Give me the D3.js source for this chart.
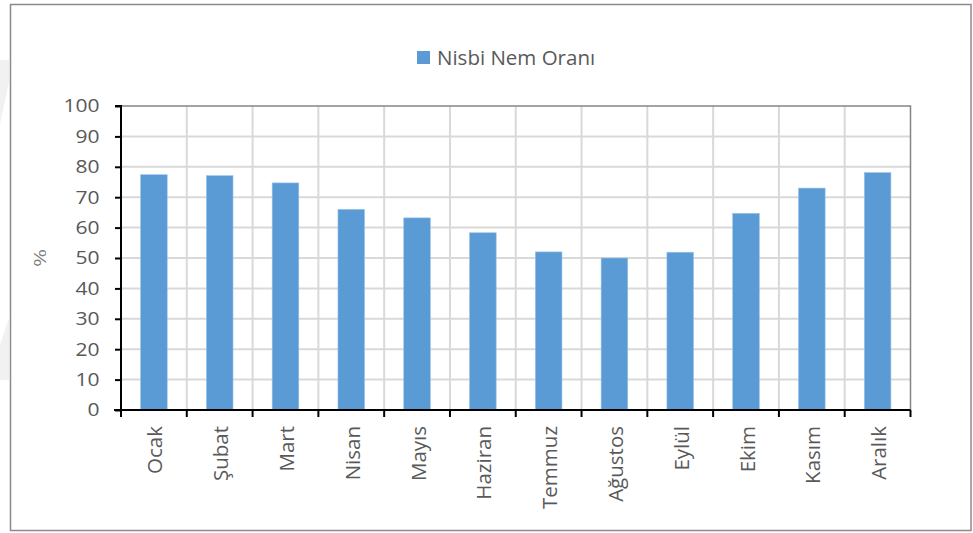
<!DOCTYPE html>
<html>
<head>
<meta charset="utf-8">
<script src="https://cdn.jsdelivr.net/npm/d3@7"></script>
<style>
  html, body { margin: 0; padding: 0; background: #fff; }
  svg { display: block; }
  text { font-family: "Open Sans", "Noto Sans", sans-serif; }
</style>
</head>
<body>
<svg id="chart" width="973" height="533"></svg>
<script>
// Aylık ortalama nisbi nem (%)
const months = ["Ocak", "Şubat", "Mart", "Nisan", "Mayıs", "Haziran",
                "Temmuz", "Ağustos", "Eylül", "Ekim", "Kasım", "Aralık"];
const humidity = [77.4, 77.1, 74.7, 66.0, 63.2, 58.3, 52.0, 50.0, 51.9, 64.7, 73.0, 78.1];
const yTicks = [0, 10, 20, 30, 40, 50, 60, 70, 80, 90, 100];
const seriesName = "Nisbi Nem Oranı";
const yAxisTitle = "%";

const svg = d3.select("#chart");
const plot = { left: 121, right: 910.5, top: 106, bottom: 410 };

// faint marks along the left page edge
svg.append("path").attr("d", "M0,60L9,60L9,82L0,124Z").attr("fill", "#f1f1f1");
svg.append("path").attr("d", "M0,345L9,318L9,380L0,380Z").attr("fill", "#f1f1f1");

// outer chart frame
svg.append("rect")
  .attr("x", 10.5).attr("y", 4.5)
  .attr("width", 960.5).attr("height", 526)
  .attr("fill", "#fff").attr("stroke", "#8a8a8a").attr("stroke-width", 1.5);

const x = d3.scaleBand().domain(months).range([plot.left, plot.right]).paddingInner(0).paddingOuter(0);
const y = d3.scaleLinear().domain([0, 100]).range([plot.bottom, plot.top]);

// horizontal gridlines
svg.append("g").selectAll("line").data(yTicks.filter(d => d > 0 && d < 100)).join("line")
  .attr("x1", plot.left).attr("x2", plot.right)
  .attr("y1", d => y(d)).attr("y2", d => y(d))
  .attr("stroke", "#d9d9d9").attr("stroke-width", 2);

// vertical gridlines at category boundaries
svg.append("g").selectAll("line").data(months.slice(1)).join("line")
  .attr("x1", d => x(d)).attr("x2", d => x(d))
  .attr("y1", plot.top).attr("y2", plot.bottom)
  .attr("stroke", "#d9d9d9").attr("stroke-width", 2);

// plot area border (top and right)
svg.append("path")
  .attr("d", `M${plot.left},${plot.top}H${plot.right}V${plot.bottom}`)
  .attr("fill", "none").attr("stroke", "#858585").attr("stroke-width", 1.5);

// bars
const barW = x.bandwidth() * 0.405;
svg.append("g").selectAll("rect").data(months).join("rect")
  .attr("x", (d) => x(d) + (x.bandwidth() - barW) / 2)
  .attr("y", (d, i) => y(humidity[i]))
  .attr("width", barW)
  .attr("height", (d, i) => y(0) - y(humidity[i]))
  .attr("fill", "#5b9bd5")
  .attr("stroke", "#9dc3e6").attr("stroke-width", 0.6);

// y axis
const yAxis = d3.axisLeft(y).tickValues(yTicks).tickSize(6).tickFormat("");
const gy = svg.append("g").attr("transform", `translate(${plot.left},0)`).call(yAxis);
gy.select(".domain").attr("stroke", "#000").attr("stroke-width", 2).attr("d", `M-6,${plot.top}H0V${plot.bottom}`);
gy.selectAll(".tick line").attr("stroke", "#000").attr("stroke-width", 2);
// tick labels, wide digits
svg.append("g").selectAll("text").data(yTicks).join("text")
  .attr("transform", d => `translate(99.5,${y(d)}) scale(1.17,1)`)
  .attr("text-anchor", "end").attr("dy", "0.36em")
  .attr("fill", "#595959").style("font-size", "18px")
  .text(d3.format("d"));

// x axis: ticks at category boundaries
const gx = svg.append("g").attr("transform", `translate(0,${plot.bottom})`);
gx.append("line").attr("x1", plot.left - 7).attr("x2", plot.right)
  .attr("y1", 0).attr("y2", 0).attr("stroke", "#000").attr("stroke-width", 2);
const boundaries = months.map(m => x(m)).concat([plot.right]);
gx.selectAll("line.tk").data(boundaries).join("line").attr("class", "tk")
  .attr("x1", d => d).attr("x2", d => d).attr("y1", 0).attr("y2", 7)
  .attr("stroke", "#000").attr("stroke-width", 2);
gx.selectAll("text").data(months).join("text")
  .attr("transform", d => `translate(${x(d) + x.bandwidth() / 2 + 8.5},16) rotate(-90)`)
  .attr("text-anchor", "end")
  .attr("fill", "#595959").style("font-size", "20.5px")
  .text(d => d);

// y axis title
svg.append("text")
  .attr("transform", `translate(46,${(plot.top + plot.bottom) / 2}) scale(0.7,1) rotate(-90)`)
  .attr("text-anchor", "middle")
  .attr("fill", "#7f7f7f").style("font-size", "22px")
  .text(yAxisTitle);

// legend
const lg = svg.append("g").attr("transform", "translate(417,51)");
lg.append("rect").attr("width", 13).attr("height", 13).attr("fill", "#5b9bd5");
lg.append("text").attr("x", 20).attr("y", 14)
  .attr("fill", "#595959").style("font-size", "20.5px")
  .text(seriesName);
</script>
</body>
</html>
